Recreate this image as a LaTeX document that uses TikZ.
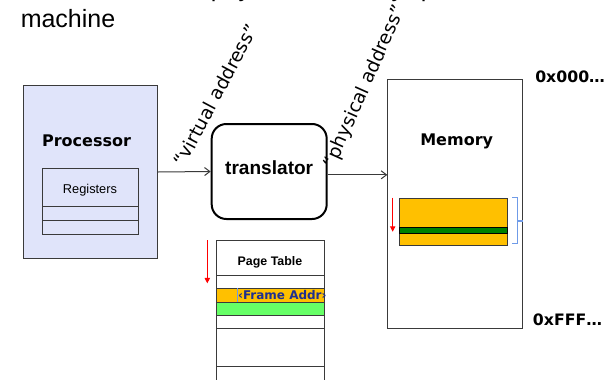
\documentclass[tikz,border=0pt]{standalone}
\usepackage{fontspec}
\setmainfont{Liberation Sans}
\newfontfamily\handfont{DejaVu Sans}
\usetikzlibrary{arrows.meta}

\definecolor{procfill}{HTML}{E0E4FA}
\definecolor{gold}{HTML}{FFC000}
\definecolor{darkgreen}{HTML}{008000}
\definecolor{lightgreen}{HTML}{66FF66}
\definecolor{navy}{HTML}{1F2F8F}
\definecolor{bracketblue}{HTML}{6F9BE8}
\definecolor{edge}{HTML}{3A3A3A}

\begin{document}
\begin{tikzpicture}[x=0.75pt,y=-0.75pt,
  box/.style={draw=edge, line width=0.75pt, inner sep=0, anchor=north west},
  plain/.style={inner sep=0},
  edgeline/.style={draw=edge, line width=0.75pt},
  arr/.style={-{Straight Barb[length=4pt,width=6pt]}, draw=edge, line width=0.75pt},
  redarr/.style={-{Triangle[length=4pt,width=4pt]}, draw=red, line width=0.6pt},
  heading/.style={plain, anchor=base west, font=\fontsize{18.75pt}{22pt}\selectfont},
  handbold/.style={plain, anchor=base, font=\handfont\bfseries\fontsize{12pt}{14pt}\selectfont},
  addrlabel/.style={plain, font=\handfont\fontsize{14pt}{16pt}\selectfont}]
\useasboundingbox (0,0) rectangle (611,379);
\clip (0,0) rectangle (611,379);

% heading line (only its lower edge is on the page) and its last word
\node[heading] (w1) at (210.5,-3.5) {physical};
\node[heading] (w2) at (313.7,-3.5) {memory};
\node[heading] (w3) at (420.5,-3.5) {present in the};
\node[heading] (mach) at (20.5,27) {machine};

% processor with its register file
\node[box, fill=procfill, minimum width=133.7*0.75pt, minimum height=173*0.75pt] (proc) at (23.3,85) {};
\node[handbold] (proclabel) at (86.5,146) {Processor};
\node[box, minimum width=96.6*0.75pt, minimum height=37.7*0.75pt] (reg1) at (41.7,168.3) {};
\node[box, minimum width=96.6*0.75pt, minimum height=14*0.75pt] (reg2) at (41.7,206) {};
\node[box, minimum width=96.6*0.75pt, minimum height=14.3*0.75pt] (reg3) at (41.7,220) {};
\node[plain, anchor=base, font=\fontsize{9.6pt}{11pt}\selectfont] (reglabel) at (90,193) {Registers};

% translator
\node[draw=black, line width=1.5pt, rounded corners=11pt, inner sep=0,
      minimum width=115*0.75pt, minimum height=95*0.75pt] (trans) at (269.2,171.5) {};
\node[plain, anchor=base, font=\bfseries\fontsize{14.3pt}{16pt}\selectfont] (translabel) at (269.2,174) {translator};

% memory
\node[box, minimum width=134.4*0.75pt, minimum height=249*0.75pt] (mem) at (387.3,79.3) {};
\node[handbold] (memlabel) at (456.7,145) {Memory};
\node[plain, anchor=base west, font=\handfont\bfseries\fontsize{11.8pt}{13pt}\selectfont] (lo) at (535,82.7) {0x000…};
\node[plain, anchor=base west, font=\handfont\bfseries\fontsize{11.8pt}{13pt}\selectfont] (hi) at (532.7,325) {0xFFF…};

% page frame inside memory
\node[box, fill=gold, minimum width=107.7*0.75pt, minimum height=47.3*0.75pt] (frame) at (399.3,197.7) {};
\node[box, draw=black, fill=darkgreen, minimum width=107.7*0.75pt, minimum height=5.4*0.75pt] (band) at (399.3,227.3) {};
\coordinate (mr1) at (392.7,197.7);
\coordinate (mr2) at (392.7,231.7);
\draw[redarr] (mr1) -- (mr2);
\coordinate (b1) at (512.3,197.7);
\coordinate (b2) at (517.3,197.7);
\coordinate (b3) at (517.3,243.3);
\coordinate (b4) at (512.3,243.3);
\coordinate (b5) at (517.3,221);
\draw[bracketblue, line width=0.9pt] (b1) -- (b2) -- (b3) -- (b4);
\draw[bracketblue, line width=0.9pt] (b5) -- (b5 -| mem.east);

% connectors
\draw[arr] (proc.east) -- (trans.west);
\draw[arr] ([yshift=-2.5pt]trans.east) -- ([yshift=-2.5pt]trans.east -| mem.west);

% address labels
\node[addrlabel, rotate=62] (vlabel) at (215.5,95) {“virtual address”};
\node[addrlabel, rotate=66] (plabel) at (365,87) {“physical address”};

% page table
\node[box, fill=gold, minimum width=108*0.75pt, minimum height=13.4*0.75pt] (ptA) at (216,288.3) {};
\node[box, fill=lightgreen, minimum width=108*0.75pt, minimum height=13.3*0.75pt] (ptB) at (216,301.7) {};
\coordinate (ptl) at (216,240.5);
\coordinate (ptr) at (324,240.5);
\coordinate (ptlb) at (216,390);
\coordinate (ptrb) at (324,390);
\draw[edgeline] (ptlb) -- (ptl) -- (ptr) -- (ptrb);
\foreach \yy in {275,315,328.3,366.7} \draw[edgeline] (216,\yy) -- (324,\yy);
\node[plain, anchor=base, font=\bfseries\fontsize{9.3pt}{11pt}\selectfont] (ptlabel) at (270,265) {Page Table};
\begin{scope}
  \clip (ptA.north west) rectangle (ptA.south east);
  \node[plain, anchor=base west, text=navy, font=\handfont\bfseries\fontsize{9pt}{10pt}\selectfont] (faddr) at (237.8,299.3) {‹Frame Addr›};
\end{scope}
\draw[bracketblue, line width=0.6pt] (237.3,288.3) -- (237.3,301.7);
\coordinate (pr1) at (207.3,240);
\coordinate (pr2) at (207.3,283.3);
\draw[redarr] (pr1) -- (pr2);
\end{tikzpicture}
\end{document}
